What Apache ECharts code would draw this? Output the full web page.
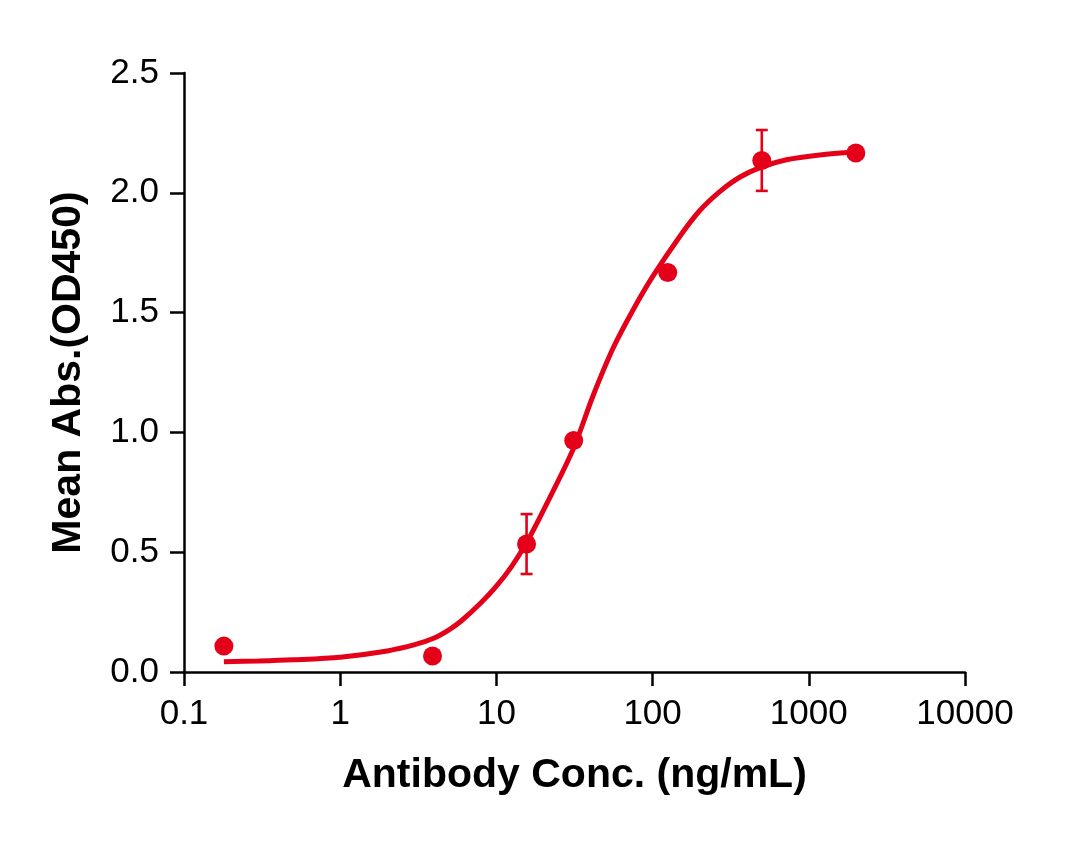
<!DOCTYPE html>
<html>
<head>
<meta charset="utf-8">
<title>Antibody ELISA curve</title>
<script src="https://cdn.jsdelivr.net/npm/echarts@6/dist/echarts.min.js"></script>
<style>
  html, body { margin: 0; padding: 0; background: #fff; }
  #main { width: 1088px; height: 843px; }
</style>
</head>
<body>
<div id="main"></div>
<script>
// measured points (ng/mL, OD450)
var concs = [0.18, 3.9, 15.6, 31.25, 125, 500, 2000];
var means = [0.108, 0.067, 0.534, 0.966, 1.667, 2.135, 2.166];
var errs = [0, 0, 0.125, 0, 0, 0.127, 0];

// fitted curve
var fitX = [0.18, 0.3, 0.5, 1, 2, 3, 4, 5, 6, 8, 10, 12.5, 15.5, 20, 31, 41.4, 55.7, 74.8, 100, 150, 200, 269, 361, 497, 719, 1177, 2000];
var fitY = [0.043, 0.046, 0.051, 0.062, 0.088, 0.114, 0.142, 0.177, 0.215, 0.29, 0.358, 0.44, 0.537, 0.675, 0.93, 1.15, 1.35, 1.51, 1.65, 1.82, 1.925, 2.005, 2.065, 2.107, 2.138, 2.158, 2.17];

var xTickLabels = ['0.1', '1', '10', '100', '1000', '10000'];

var red = '#e50019';
var font = '"Liberation Sans", Arial, sans-serif';

var myChart = echarts.init(document.getElementById('main'));

var pts = [], bars = [], fit = [];
for (var i = 0; i < concs.length; i++) {
    pts.push([concs[i], means[i]]);
    if (errs[i] > 0) bars.push([concs[i], means[i] - errs[i], means[i] + errs[i]]);
}
for (var j = 0; j < fitX.length; j++) fit.push([fitX[j], fitY[j]]);

var option = {
    animation: false,
    grid: { left: 184, right: 123, top: 73, bottom: 171, containLabel: false },
    xAxis: {
        type: 'log',
        logBase: 10,
        min: 0.1,
        max: 10000,
        name: 'Antibody Conc. (ng/mL)',
        nameLocation: 'middle',
        nameGap: 83,
        nameTextStyle: { fontFamily: font, fontSize: 41, fontWeight: 'bold', color: '#000' },
        axisLine: { show: true, lineStyle: { color: '#000', width: 2.5 } },
        axisTick: { show: true, length: 14, lineStyle: { color: '#000', width: 2.5 } },
        minorTick: { show: false },
        splitLine: { show: false },
        axisLabel: {
            margin: 25,
            fontFamily: font,
            fontSize: 35,
            color: '#000',
            formatter: function (v) {
                var k = Math.round(Math.log(v) / Math.LN10) + 1;
                return xTickLabels[k] !== undefined ? xTickLabels[k] : '';
            }
        }
    },
    yAxis: {
        type: 'value',
        min: 0,
        max: 2.5,
        interval: 0.5,
        name: 'Mean Abs.(OD450)',
        nameLocation: 'middle',
        nameGap: 95,
        nameTextStyle: { fontFamily: font, fontSize: 41, fontWeight: 'bold', color: '#000' },
        axisLine: { show: true, lineStyle: { color: '#000', width: 2.5 } },
        axisTick: { show: true, length: 14, lineStyle: { color: '#000', width: 2.5 } },
        splitLine: { show: false },
        axisLabel: {
            margin: 25,
            fontFamily: font,
            fontSize: 35,
            color: '#000',
            formatter: function (v) { return v.toFixed(1); }
        }
    },
    series: [
        {
            name: 'fit',
            type: 'line',
            data: fit,
            smooth: 0.3,
            showSymbol: false,
            symbol: 'none',
            lineStyle: { color: red, width: 5 },
            z: 2
        },
        {
            name: 'error',
            type: 'custom',
            data: bars,
            z: 3,
            renderItem: function (params, api) {
                var x = api.value(0);
                var lo = api.coord([x, api.value(1)]);
                var hi = api.coord([x, api.value(2)]);
                var w = 6;
                var st = { stroke: red, lineWidth: 2.6 };
                return {
                    type: 'group',
                    children: [
                        { type: 'line', shape: { x1: lo[0], y1: lo[1], x2: hi[0], y2: hi[1] }, style: st },
                        { type: 'line', shape: { x1: lo[0] - w, y1: lo[1], x2: lo[0] + w, y2: lo[1] }, style: st },
                        { type: 'line', shape: { x1: hi[0] - w, y1: hi[1], x2: hi[0] + w, y2: hi[1] }, style: st }
                    ]
                };
            }
        },
        {
            name: 'mean',
            type: 'scatter',
            data: pts,
            symbol: 'circle',
            symbolSize: 19,
            itemStyle: { color: red, opacity: 1 },
            z: 4
        }
    ]
};

myChart.setOption(option);
</script>
</body>
</html>
